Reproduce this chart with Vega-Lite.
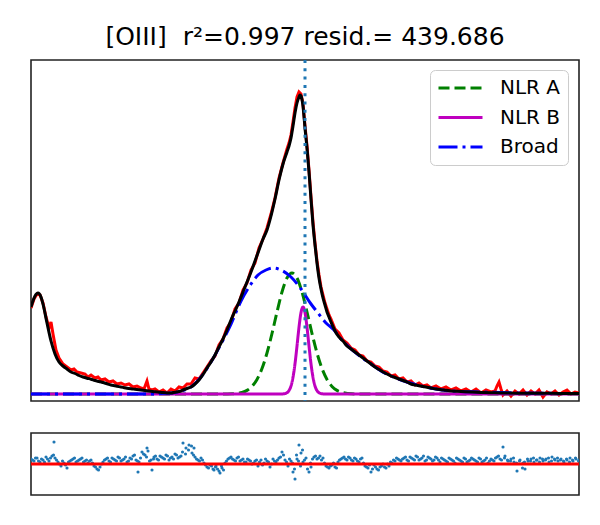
{
"$schema": "https://vega.github.io/schema/vega-lite/v6.json",
"background": "white",
"padding": {"left": 28, "top": 24, "right": 22, "bottom": 31},
"title": {"text": "[OIII]\u00a0 r²=0.997 resid.= 439.686", "anchor": "middle", "fontSize": 25, "font": "DejaVu Sans", "fontWeight": "normal", "color": "black", "offset": 8},
"config": {
  "view": {"stroke": "#222222", "strokeWidth": 1.6},
  "font": "DejaVu Sans",
  "legend": {"orient": "none", "legendX": 399, "legendY": 10, "labelFontSize": 20, "labelFont": "DejaVu Sans", "labelColor": "black", "symbolType": "stroke", "symbolSize": 1936, "symbolStrokeWidth": 3, "fillColor": "rgba(255,255,255,0.8)", "strokeColor": "#cccccc", "cornerRadius": 5, "padding": 7, "clipHeight": 22, "rowPadding": 7.5, "labelOffset": 16}
},
"spacing": 28,
"datasets": {
"spectrum": [
{"x":0,"flux":86},{"x":3,"flux":95},{"x":6,"flux":100},{"x":9,"flux":99},{"x":12,"flux":91},{"x":15,"flux":77},{"x":18,"flux":66},{"x":20,"flux":72},{"x":22,"flux":60},{"x":25,"flux":44},{"x":28,"flux":36},{"x":32,"flux":30},{"x":36,"flux":27},{"x":40,"flux":24},{"x":43,"flux":25},{"x":46,"flux":22},{"x":50,"flux":21},{"x":54,"flux":20},{"x":57,"flux":17},{"x":60,"flux":19},{"x":64,"flux":16},{"x":67,"flux":17},{"x":70,"flux":14},{"x":74,"flux":15},{"x":78,"flux":12},{"x":82,"flux":13},{"x":86,"flux":10},{"x":90,"flux":11},{"x":94,"flux":9},{"x":98,"flux":10},{"x":102,"flux":7},{"x":106,"flux":8},{"x":110,"flux":6},{"x":113,"flux":5},{"x":116,"flux":13},{"x":118,"flux":5},{"x":121,"flux":4},{"x":124,"flux":5},{"x":128,"flux":2},{"x":132,"flux":4},{"x":136,"flux":1},{"x":140,"flux":5},{"x":144,"flux":3},{"x":148,"flux":7},{"x":152,"flux":6},{"x":156,"flux":10},{"x":160,"flux":10},{"x":164,"flux":16},{"x":168,"flux":15},{"x":172,"flux":21},{"x":176,"flux":27},{"x":180,"flux":33},{"x":184,"flux":38},{"x":188,"flux":49},{"x":192,"flux":55},{"x":196,"flux":66},{"x":200,"flux":72},{"x":204,"flux":85},{"x":208,"flux":91},{"x":212,"flux":104},{"x":216,"flux":111},{"x":220,"flux":124},{"x":224,"flux":131},{"x":228,"flux":146},{"x":232,"flux":155},{"x":236,"flux":166},{"x":240,"flux":180},{"x":244,"flux":196},{"x":248,"flux":216},{"x":252,"flux":231},{"x":256,"flux":245},{"x":258,"flux":251},{"x":260,"flux":259},{"x":262,"flux":272},{"x":264,"flux":286},{"x":266,"flux":297},{"x":268,"flux":302},{"x":270,"flux":300},{"x":272,"flux":290},{"x":274,"flux":268},{"x":276,"flux":248},{"x":278,"flux":224},{"x":280,"flux":197},{"x":282,"flux":172},{"x":284,"flux":151},{"x":286,"flux":133},{"x":288,"flux":119},{"x":290,"flux":107},{"x":292,"flux":99},{"x":294,"flux":91},{"x":296,"flux":85},{"x":298,"flux":79},{"x":300,"flux":75},{"x":304,"flux":65},{"x":308,"flux":61},{"x":312,"flux":54},{"x":316,"flux":51},{"x":320,"flux":46},{"x":324,"flux":44},{"x":328,"flux":39},{"x":332,"flux":38},{"x":336,"flux":33},{"x":340,"flux":32},{"x":344,"flux":28},{"x":348,"flux":27},{"x":352,"flux":23},{"x":356,"flux":22},{"x":360,"flux":18},{"x":364,"flux":19},{"x":368,"flux":15},{"x":372,"flux":16},{"x":376,"flux":12},{"x":380,"flux":13},{"x":384,"flux":9},{"x":388,"flux":11},{"x":392,"flux":8},{"x":396,"flux":9},{"x":400,"flux":6},{"x":405,"flux":8},{"x":410,"flux":5},{"x":415,"flux":7},{"x":420,"flux":4},{"x":425,"flux":6},{"x":430,"flux":3},{"x":435,"flux":5},{"x":440,"flux":2},{"x":445,"flux":5},{"x":450,"flux":1},{"x":455,"flux":4},{"x":460,"flux":2},{"x":464,"flux":3},{"x":466,"flux":8},{"x":468,"flux":12},{"x":470,"flux":5},{"x":472,"flux":-1},{"x":476,"flux":3},{"x":480,"flux":-2},{"x":484,"flux":3},{"x":488,"flux":0},{"x":492,"flux":4},{"x":496,"flux":-1},{"x":500,"flux":3},{"x":504,"flux":0},{"x":508,"flux":4},{"x":512,"flux":-3},{"x":516,"flux":2},{"x":520,"flux":0},{"x":524,"flux":3},{"x":528,"flux":-1},{"x":532,"flux":2},{"x":536,"flux":4},{"x":540,"flux":0},{"x":544,"flux":2},{"x":548,"flux":1}
],
"fit": [
{"x":0,"flux":87},{"x":4,"flux":98},{"x":7,"flux":101},{"x":10,"flux":97},{"x":12,"flux":90},{"x":16,"flux":71},{"x":20,"flux":53},{"x":24,"flux":40},{"x":28,"flux":32},{"x":32,"flux":28},{"x":36,"flux":25},{"x":40,"flux":22},{"x":44,"flux":20.5},{"x":48,"flux":18.5},{"x":52,"flux":17},{"x":56,"flux":15.8},{"x":60,"flux":14.8},{"x":64,"flux":13.5},{"x":68,"flux":12.5},{"x":72,"flux":11.5},{"x":76,"flux":10.2},{"x":80,"flux":9},{"x":84,"flux":8.2},{"x":88,"flux":7.4},{"x":92,"flux":6.6},{"x":96,"flux":5.8},{"x":100,"flux":5.2},{"x":104,"flux":4.7},{"x":108,"flux":4.2},{"x":112,"flux":3.7},{"x":116,"flux":3.2},{"x":120,"flux":2.7},{"x":124,"flux":2.2},{"x":128,"flux":1.8},{"x":132,"flux":1.4},{"x":136,"flux":1.1},{"x":140,"flux":1},{"x":144,"flux":1.8},{"x":148,"flux":2.5},{"x":152,"flux":4},{"x":156,"flux":5.5},{"x":160,"flux":7},{"x":164,"flux":10},{"x":168,"flux":14},{"x":172,"flux":19.5},{"x":176,"flux":26},{"x":180,"flux":32},{"x":184,"flux":39},{"x":188,"flux":47},{"x":192,"flux":55},{"x":196,"flux":64},{"x":200,"flux":74},{"x":204,"flux":83},{"x":208,"flux":92},{"x":212,"flux":102},{"x":216,"flux":112},{"x":220,"flux":122},{"x":224,"flux":133},{"x":228,"flux":144},{"x":232,"flux":155},{"x":236,"flux":164},{"x":240,"flux":178},{"x":244,"flux":195},{"x":248,"flux":214},{"x":252,"flux":230},{"x":256,"flux":242},{"x":258,"flux":248},{"x":260,"flux":256},{"x":262,"flux":268},{"x":264,"flux":281},{"x":266,"flux":291},{"x":268,"flux":297},{"x":269,"flux":299},{"x":270,"flux":298},{"x":272,"flux":288},{"x":274,"flux":266},{"x":276,"flux":246},{"x":278,"flux":222},{"x":280,"flux":195},{"x":282,"flux":169},{"x":284,"flux":149},{"x":286,"flux":131},{"x":288,"flux":116},{"x":290,"flux":105},{"x":292,"flux":96},{"x":294,"flux":89},{"x":296,"flux":82},{"x":298,"flux":77},{"x":300,"flux":72},{"x":304,"flux":63},{"x":308,"flux":57},{"x":312,"flux":53},{"x":316,"flux":48},{"x":320,"flux":45},{"x":324,"flux":42},{"x":328,"flux":39},{"x":332,"flux":36},{"x":336,"flux":33},{"x":340,"flux":30},{"x":344,"flux":27},{"x":348,"flux":24.5},{"x":352,"flux":22},{"x":356,"flux":20},{"x":360,"flux":18},{"x":364,"flux":16.5},{"x":368,"flux":15},{"x":372,"flux":13.5},{"x":376,"flux":12},{"x":380,"flux":10},{"x":384,"flux":9},{"x":388,"flux":8.2},{"x":392,"flux":7.5},{"x":396,"flux":6.8},{"x":400,"flux":6},{"x":405,"flux":5},{"x":410,"flux":4.3},{"x":415,"flux":3.7},{"x":420,"flux":3},{"x":430,"flux":2.5},{"x":440,"flux":2},{"x":450,"flux":1.6},{"x":460,"flux":1.3},{"x":470,"flux":1},{"x":490,"flux":0.8},{"x":510,"flux":0.7},{"x":530,"flux":0.6},{"x":548,"flux":0.5}
],
"components": [
{"component":"NLR A","x":0,"flux":0},{"component":"NLR A","x":190,"flux":0},{"component":"NLR A","x":201,"flux":0.2},{"component":"NLR A","x":211,"flux":1.6},{"component":"NLR A","x":216,"flux":3.6},{"component":"NLR A","x":221,"flux":7.6},{"component":"NLR A","x":226,"flux":14.5},{"component":"NLR A","x":231,"flux":25.5},{"component":"NLR A","x":236,"flux":41},{"component":"NLR A","x":241,"flux":60.5},{"component":"NLR A","x":246,"flux":82},{"component":"NLR A","x":251,"flux":102},{"component":"NLR A","x":256,"flux":116},{"component":"NLR A","x":261,"flux":121},{"component":"NLR A","x":266,"flux":116},{"component":"NLR A","x":271,"flux":102},{"component":"NLR A","x":276,"flux":82},{"component":"NLR A","x":281,"flux":60.5},{"component":"NLR A","x":286,"flux":41},{"component":"NLR A","x":291,"flux":25.5},{"component":"NLR A","x":296,"flux":14.5},{"component":"NLR A","x":301,"flux":7.6},{"component":"NLR A","x":306,"flux":3.6},{"component":"NLR A","x":311,"flux":1.6},{"component":"NLR A","x":321,"flux":0.2},{"component":"NLR A","x":332,"flux":0},{"component":"NLR A","x":548,"flux":0},
{"component":"NLR B","x":0,"flux":0},{"component":"NLR B","x":250,"flux":0},{"component":"NLR B","x":252,"flux":0.1},{"component":"NLR B","x":254,"flux":0.4},{"component":"NLR B","x":256,"flux":1.3},{"component":"NLR B","x":258,"flux":3.4},{"component":"NLR B","x":260,"flux":8},{"component":"NLR B","x":262,"flux":16.7},{"component":"NLR B","x":264,"flux":30.2},{"component":"NLR B","x":266,"flux":48},{"component":"NLR B","x":268,"flux":66.8},{"component":"NLR B","x":270,"flux":81.4},{"component":"NLR B","x":272,"flux":87},{"component":"NLR B","x":274,"flux":81.4},{"component":"NLR B","x":276,"flux":66.8},{"component":"NLR B","x":278,"flux":48},{"component":"NLR B","x":280,"flux":30.2},{"component":"NLR B","x":282,"flux":16.7},{"component":"NLR B","x":284,"flux":8},{"component":"NLR B","x":286,"flux":3.4},{"component":"NLR B","x":288,"flux":1.3},{"component":"NLR B","x":290,"flux":0.4},{"component":"NLR B","x":292,"flux":0.1},{"component":"NLR B","x":294,"flux":0},{"component":"NLR B","x":548,"flux":0},
{"component":"Broad","x":0,"flux":0},{"component":"Broad","x":120,"flux":0},{"component":"Broad","x":130,"flux":0.5},{"component":"Broad","x":140,"flux":1},{"component":"Broad","x":150,"flux":3},{"component":"Broad","x":160,"flux":7},{"component":"Broad","x":170,"flux":17},{"component":"Broad","x":180,"flux":32},{"component":"Broad","x":190,"flux":50},{"component":"Broad","x":200,"flux":70},{"component":"Broad","x":210,"flux":93},{"component":"Broad","x":220,"flux":110},{"component":"Broad","x":227,"flux":119},{"component":"Broad","x":235,"flux":124},{"component":"Broad","x":242,"flux":126},{"component":"Broad","x":250,"flux":124},{"component":"Broad","x":260,"flux":117},{"component":"Broad","x":270,"flux":105},{"component":"Broad","x":280,"flux":90},{"component":"Broad","x":287,"flux":81},{"component":"Broad","x":295,"flux":71},{"component":"Broad","x":303,"flux":64},{"component":"Broad","x":310,"flux":55},{"component":"Broad","x":320,"flux":45},{"component":"Broad","x":330,"flux":37},{"component":"Broad","x":340,"flux":30},{"component":"Broad","x":350,"flux":23},{"component":"Broad","x":360,"flux":18},{"component":"Broad","x":370,"flux":14},{"component":"Broad","x":390,"flux":8},{"component":"Broad","x":420,"flux":3},{"component":"Broad","x":450,"flux":2},{"component":"Broad","x":490,"flux":1},{"component":"Broad","x":548,"flux":0.5}
],
"center": [{"x":274}],
"zero": [{"resid":0}],
"residuals": [
{"x":0,"resid":5},{"x":3,"resid":3},{"x":6,"resid":6},{"x":9,"resid":2},{"x":12,"resid":4},{"x":15,"resid":7},{"x":18,"resid":3},{"x":21,"resid":8},{"x":23,"resid":22},{"x":24,"resid":6},{"x":27,"resid":2},{"x":30,"resid":-2},{"x":33,"resid":1},{"x":36,"resid":-4},{"x":39,"resid":3},{"x":42,"resid":5},{"x":45,"resid":2},{"x":48,"resid":4},{"x":51,"resid":6},{"x":54,"resid":3},{"x":57,"resid":1},{"x":60,"resid":4},{"x":63,"resid":-2},{"x":66,"resid":-5},{"x":69,"resid":-3},{"x":72,"resid":2},{"x":75,"resid":5},{"x":78,"resid":3},{"x":81,"resid":6},{"x":84,"resid":4},{"x":87,"resid":7},{"x":90,"resid":3},{"x":93,"resid":5},{"x":96,"resid":2},{"x":99,"resid":6},{"x":102,"resid":8},{"x":105,"resid":4},{"x":107,"resid":-8},{"x":108,"resid":2},{"x":111,"resid":12},{"x":114,"resid":9},{"x":116,"resid":16},{"x":117,"resid":13},{"x":120,"resid":4},{"x":121,"resid":-6},{"x":123,"resid":7},{"x":126,"resid":5},{"x":129,"resid":8},{"x":132,"resid":6},{"x":135,"resid":9},{"x":138,"resid":4},{"x":141,"resid":7},{"x":144,"resid":10},{"x":147,"resid":6},{"x":150,"resid":8},{"x":152,"resid":21},{"x":155,"resid":16},{"x":158,"resid":19},{"x":161,"resid":11},{"x":163,"resid":16},{"x":164,"resid":7},{"x":167,"resid":4},{"x":170,"resid":6},{"x":173,"resid":1},{"x":176,"resid":-3},{"x":179,"resid":-1},{"x":182,"resid":-5},{"x":183,"resid":-6},{"x":185,"resid":-2},{"x":188,"resid":-7},{"x":189,"resid":-9},{"x":191,"resid":-4},{"x":194,"resid":1},{"x":197,"resid":5},{"x":200,"resid":7},{"x":203,"resid":4},{"x":206,"resid":6},{"x":209,"resid":3},{"x":212,"resid":5},{"x":215,"resid":2},{"x":218,"resid":4},{"x":221,"resid":0},{"x":224,"resid":3},{"x":227,"resid":-2},{"x":230,"resid":4},{"x":233,"resid":1},{"x":236,"resid":3},{"x":239,"resid":-3},{"x":242,"resid":5},{"x":245,"resid":2},{"x":248,"resid":6},{"x":251,"resid":12},{"x":254,"resid":4},{"x":257,"resid":-2},{"x":260,"resid":3},{"x":262,"resid":-8},{"x":264,"resid":-15},{"x":266,"resid":5},{"x":268,"resid":19},{"x":270,"resid":11},{"x":272,"resid":2},{"x":275,"resid":6},{"x":278,"resid":-8},{"x":280,"resid":-3},{"x":283,"resid":7},{"x":286,"resid":5},{"x":289,"resid":8},{"x":292,"resid":6},{"x":295,"resid":-2},{"x":298,"resid":-4},{"x":301,"resid":-1},{"x":304,"resid":-3},{"x":307,"resid":2},{"x":310,"resid":5},{"x":313,"resid":7},{"x":316,"resid":4},{"x":319,"resid":6},{"x":322,"resid":3},{"x":325,"resid":5},{"x":328,"resid":2},{"x":331,"resid":6},{"x":334,"resid":-2},{"x":337,"resid":-4},{"x":340,"resid":-8},{"x":343,"resid":-1},{"x":346,"resid":-5},{"x":349,"resid":-3},{"x":352,"resid":0},{"x":355,"resid":-4},{"x":358,"resid":-2},{"x":361,"resid":1},{"x":364,"resid":3},{"x":367,"resid":5},{"x":370,"resid":3},{"x":373,"resid":6},{"x":376,"resid":4},{"x":379,"resid":7},{"x":382,"resid":5},{"x":385,"resid":8},{"x":388,"resid":4},{"x":391,"resid":6},{"x":394,"resid":3},{"x":397,"resid":7},{"x":400,"resid":5},{"x":403,"resid":4},{"x":406,"resid":6},{"x":409,"resid":2},{"x":412,"resid":5},{"x":415,"resid":3},{"x":418,"resid":6},{"x":421,"resid":4},{"x":424,"resid":1},{"x":427,"resid":5},{"x":430,"resid":3},{"x":433,"resid":6},{"x":436,"resid":2},{"x":439,"resid":4},{"x":442,"resid":5},{"x":445,"resid":3},{"x":448,"resid":6},{"x":451,"resid":2},{"x":454,"resid":4},{"x":457,"resid":1},{"x":460,"resid":5},{"x":463,"resid":3},{"x":466,"resid":7},{"x":469,"resid":5},{"x":472,"resid":17},{"x":474,"resid":8},{"x":477,"resid":3},{"x":480,"resid":5},{"x":483,"resid":2},{"x":486,"resid":-7},{"x":489,"resid":4},{"x":492,"resid":1},{"x":494,"resid":-5},{"x":497,"resid":3},{"x":500,"resid":5},{"x":503,"resid":2},{"x":506,"resid":4},{"x":509,"resid":6},{"x":512,"resid":3},{"x":515,"resid":5},{"x":518,"resid":2},{"x":521,"resid":7},{"x":524,"resid":4},{"x":527,"resid":3},{"x":530,"resid":5},{"x":533,"resid":2},{"x":536,"resid":4},{"x":539,"resid":6},{"x":542,"resid":3},{"x":545,"resid":5},{"x":548,"resid":4},
{"x":1.5,"resid":4},{"x":4.5,"resid":6},{"x":7.5,"resid":3},{"x":10.5,"resid":5},{"x":13.5,"resid":2},{"x":16.5,"resid":5},{"x":19.5,"resid":6},{"x":22.5,"resid":9},{"x":25.5,"resid":4},{"x":28.5,"resid":0},{"x":31.5,"resid":3},{"x":34.5,"resid":-1},{"x":37.5,"resid":2},{"x":40.5,"resid":4},{"x":43.5,"resid":6},{"x":46.5,"resid":3},{"x":49.5,"resid":5},{"x":52.5,"resid":2},{"x":55.5,"resid":4},{"x":58.5,"resid":3},{"x":61.5,"resid":1},{"x":64.5,"resid":-3},{"x":67.5,"resid":-6},{"x":70.5,"resid":0},{"x":73.5,"resid":4},{"x":76.5,"resid":6},{"x":79.5,"resid":2},{"x":82.5,"resid":5},{"x":85.5,"resid":3},{"x":88.5,"resid":6},{"x":91.5,"resid":4},{"x":94.5,"resid":7},{"x":97.5,"resid":3},{"x":100.5,"resid":5},{"x":103.5,"resid":9},{"x":106.5,"resid":3},{"x":109.5,"resid":6},{"x":112.5,"resid":10},{"x":115.5,"resid":7},{"x":118.5,"resid":3},{"x":122.5,"resid":5},{"x":124.5,"resid":8},{"x":127.5,"resid":4},{"x":130.5,"resid":7},{"x":133.5,"resid":5},{"x":136.5,"resid":8},{"x":139.5,"resid":6},{"x":142.5,"resid":5},{"x":145.5,"resid":9},{"x":148.5,"resid":7},{"x":151.5,"resid":12},{"x":154.5,"resid":10},{"x":157.5,"resid":14},{"x":160.5,"resid":18},{"x":162.5,"resid":9},{"x":165.5,"resid":5},{"x":168.5,"resid":3},{"x":171.5,"resid":4},{"x":174.5,"resid":-1},{"x":177.5,"resid":-4},{"x":180.5,"resid":-2},{"x":184.5,"resid":-3},{"x":186.5,"resid":-5},{"x":190.5,"resid":-2},{"x":192.5,"resid":-6},{"x":195.5,"resid":3},{"x":198.5,"resid":6},{"x":201.5,"resid":5},{"x":204.5,"resid":3},{"x":207.5,"resid":7},{"x":210.5,"resid":4},{"x":213.5,"resid":2},{"x":216.5,"resid":5},{"x":219.5,"resid":3},{"x":222.5,"resid":1},{"x":225.5,"resid":4},{"x":228.5,"resid":2},{"x":231.5,"resid":-1},{"x":234.5,"resid":5},{"x":237.5,"resid":2},{"x":240.5,"resid":0},{"x":243.5,"resid":3},{"x":246.5,"resid":4},{"x":249.5,"resid":7},{"x":252.5,"resid":9},{"x":255.5,"resid":2},{"x":258.5,"resid":5},{"x":261.5,"resid":1},{"x":263.5,"resid":-5},{"x":265.5,"resid":9},{"x":267.5,"resid":3},{"x":269.5,"resid":-2},{"x":271.5,"resid":14},{"x":273.5,"resid":4},{"x":276.5,"resid":-5},{"x":279.5,"resid":1},{"x":281.5,"resid":5},{"x":284.5,"resid":8},{"x":287.5,"resid":6},{"x":290.5,"resid":4},{"x":293.5,"resid":1},{"x":296.5,"resid":-3},{"x":299.5,"resid":-2},{"x":302.5,"resid":1},{"x":305.5,"resid":-4},{"x":308.5,"resid":4},{"x":311.5,"resid":6},{"x":314.5,"resid":5},{"x":317.5,"resid":7},{"x":320.5,"resid":4},{"x":323.5,"resid":6},{"x":326.5,"resid":3},{"x":329.5,"resid":5},{"x":332.5,"resid":1},{"x":335.5,"resid":-3},{"x":338.5,"resid":-1},{"x":341.5,"resid":-5},{"x":344.5,"resid":-3},{"x":347.5,"resid":-6},{"x":350.5,"resid":-2},{"x":353.5,"resid":-3},{"x":356.5,"resid":0},{"x":359.5,"resid":2},{"x":362.5,"resid":4},{"x":365.5,"resid":6},{"x":368.5,"resid":4},{"x":371.5,"resid":5},{"x":374.5,"resid":7},{"x":377.5,"resid":3},{"x":380.5,"resid":6},{"x":383.5,"resid":4},{"x":386.5,"resid":7},{"x":389.5,"resid":5},{"x":392.5,"resid":8},{"x":395.5,"resid":4},{"x":398.5,"resid":6},{"x":401.5,"resid":3},{"x":404.5,"resid":7},{"x":407.5,"resid":4},{"x":410.5,"resid":6},{"x":413.5,"resid":4},{"x":416.5,"resid":2},{"x":419.5,"resid":5},{"x":422.5,"resid":3},{"x":425.5,"resid":6},{"x":428.5,"resid":4},{"x":431.5,"resid":2},{"x":434.5,"resid":5},{"x":437.5,"resid":3},{"x":440.5,"resid":6},{"x":443.5,"resid":4},{"x":446.5,"resid":2},{"x":449.5,"resid":5},{"x":452.5,"resid":3},{"x":455.5,"resid":6},{"x":458.5,"resid":3},{"x":461.5,"resid":4},{"x":464.5,"resid":6},{"x":467.5,"resid":8},{"x":470.5,"resid":4},{"x":473.5,"resid":6},{"x":476.5,"resid":4},{"x":479.5,"resid":3},{"x":482.5,"resid":6},{"x":485.5,"resid":1},{"x":488.5,"resid":3},{"x":491.5,"resid":-4},{"x":493.5,"resid":2},{"x":496.5,"resid":5},{"x":499.5,"resid":3},{"x":502.5,"resid":6},{"x":505.5,"resid":4},{"x":508.5,"resid":2},{"x":511.5,"resid":5},{"x":514.5,"resid":4},{"x":517.5,"resid":6},{"x":520.5,"resid":3},{"x":523.5,"resid":5},{"x":526.5,"resid":6},{"x":529.5,"resid":4},{"x":532.5,"resid":3},{"x":535.5,"resid":5},{"x":538.5,"resid":2},{"x":541.5,"resid":4},{"x":544.5,"resid":6},{"x":547.5,"resid":3}
]
},
"vconcat": [
{
  "width": 548, "height": 341,
  "encoding": {
    "x": {"field": "x", "type": "quantitative", "scale": {"domain": [0, 548], "nice": false, "zero": false}, "axis": null},
    "y": {"field": "flux", "type": "quantitative", "scale": {"domain": [-7, 334], "nice": false, "zero": false}, "axis": null}
  },
  "layer": [
    {"data": {"name": "spectrum"}, "mark": {"type": "line", "color": "#ff0000", "strokeWidth": 3, "clip": true}},
    {"data": {"name": "components"}, "mark": {"type": "line", "strokeWidth": 3, "interpolate": "monotone", "clip": true},
     "encoding": {
       "color": {"field": "component", "type": "nominal", "scale": {"domain": ["NLR A", "NLR B", "Broad"], "range": ["#008000", "#bf00bf", "#0000ff"]}, "legend": {"title": null}},
       "strokeDash": {"field": "component", "type": "nominal", "scale": {"domain": ["NLR A", "NLR B", "Broad"], "range": [[11, 5], [1, 0], [19, 5, 3, 5]]}, "legend": {"title": null}}
     }},
    {"data": {"name": "fit"}, "mark": {"type": "line", "color": "black", "strokeWidth": 3, "interpolate": "monotone", "clip": true}},
    {"data": {"name": "center"}, "mark": {"type": "rule", "color": "#1f77b4", "strokeWidth": 3, "strokeDash": [3, 5.3]},
     "encoding": {"x": {"field": "x", "type": "quantitative"}, "y": null}}
  ]
},
{
  "width": 548, "height": 62,
  "layer": [
    {"data": {"name": "residuals"}, "mark": {"type": "circle", "size": 10, "color": "#1f77b4", "opacity": 1, "clip": true},
     "encoding": {
       "x": {"field": "x", "type": "quantitative", "scale": {"domain": [0, 548], "nice": false, "zero": false}, "axis": null},
       "y": {"field": "resid", "type": "quantitative", "scale": {"domain": [-31, 31], "nice": false, "zero": false}, "axis": null}
     }},
    {"data": {"name": "zero"}, "mark": {"type": "rule", "color": "#ff0000", "strokeWidth": 3},
     "encoding": {"y": {"field": "resid", "type": "quantitative"}}}
  ]
}
]
}
